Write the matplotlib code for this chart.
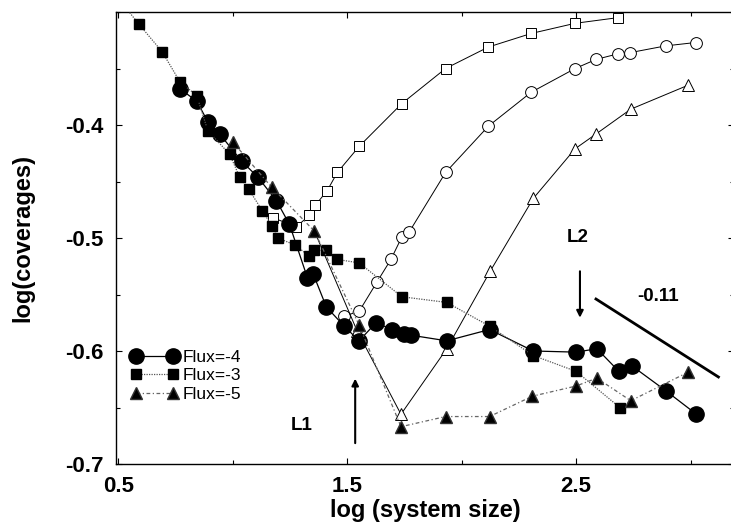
import numpy as np
import matplotlib
matplotlib.use("Agg")
import matplotlib.pyplot as plt
from matplotlib.ticker import MultipleLocator

plt.rcParams['font.family'] = ['Liberation Sans', 'DejaVu Sans']

# Flux=-4 (filled circles)
x_f4 = [0.770, 0.843, 0.891, 0.943, 1.039, 1.109, 1.191, 1.248, 1.326, 1.352, 1.409,
        1.487, 1.552, 1.626, 1.696, 1.748, 1.778, 1.935, 2.122, 2.313, 2.500, 2.591,
        2.687, 2.743, 2.891, 3.026]
y_f4 = [-0.368, -0.379, -0.397, -0.408, -0.432, -0.446, -0.467, -0.488, -0.535, -0.532,
        -0.561, -0.578, -0.591, -0.575, -0.581, -0.585, -0.586, -0.591, -0.581, -0.600,
        -0.601, -0.598, -0.618, -0.613, -0.635, -0.656]

# Flux=-3 (filled squares)
x_f3 = [0.500, 0.591, 0.691, 0.770, 0.843, 0.891, 0.987, 1.030, 1.070, 1.130, 1.170,
        1.196, 1.270, 1.335, 1.357, 1.409, 1.457, 1.552, 1.739, 1.935, 2.122, 2.313,
        2.500, 2.691]
y_f3 = [-0.288, -0.311, -0.335, -0.362, -0.374, -0.405, -0.426, -0.446, -0.457, -0.476,
        -0.489, -0.500, -0.506, -0.516, -0.511, -0.511, -0.519, -0.522, -0.552, -0.557,
        -0.578, -0.604, -0.618, -0.650]

# Flux=-5 (filled triangles)
x_f5 = [1.000, 1.170, 1.357, 1.552, 1.735, 1.930, 2.122, 2.309, 2.500, 2.591, 2.739, 2.987]
y_f5 = [-0.415, -0.455, -0.494, -0.577, -0.667, -0.658, -0.658, -0.640, -0.631, -0.624,
        -0.644, -0.619]

# open squares
x_os = [1.174, 1.278, 1.335, 1.361, 1.413, 1.457, 1.552, 1.739, 1.930, 2.117, 2.304,
        2.496, 2.683]
y_os = [-0.482, -0.490, -0.480, -0.471, -0.458, -0.442, -0.419, -0.381, -0.350, -0.331,
        -0.319, -0.310, -0.305]

# open circles
x_oc = [1.487, 1.552, 1.630, 1.691, 1.739, 1.770, 1.930, 2.117, 2.304, 2.496, 2.587,
        2.683, 2.735, 2.891, 3.022]
y_oc = [-0.569, -0.565, -0.539, -0.519, -0.499, -0.495, -0.442, -0.401, -0.371, -0.350,
        -0.342, -0.337, -0.336, -0.330, -0.327]

# open triangles
x_ot = [1.357, 1.543, 1.735, 1.935, 2.126, 2.313, 2.496, 2.587, 2.739, 2.987]
y_ot = [-0.494, -0.582, -0.656, -0.598, -0.529, -0.465, -0.421, -0.408, -0.386, -0.365]

fig = plt.figure(figsize=(7.31, 5.27), dpi=100)
ax = fig.add_axes([116/731, 63/527, 618/731, 452/527])

# open series (thin solid lines)
ax.plot(x_os, y_os, '-', color='black', lw=0.7, marker='s', ms=7.5,
        mfc='white', mec='black', mew=0.7, zorder=2)
ax.plot(x_oc, y_oc, '-', color='black', lw=0.7, marker='o', ms=8.5,
        mfc='white', mec='black', mew=0.7, zorder=2)
ax.plot(x_ot[1:], y_ot[1:], '-', color='black', lw=0.7, marker='^', ms=8,
        mfc='white', mec='black', mew=0.7, zorder=2)
ax.plot(x_ot[:2], y_ot[:2], '-', color='black', lw=0.7, zorder=2)

# filled series
ax.plot(x_f4, y_f4, '-', color='black', lw=0.9, marker='o', ms=11,
        mfc='black', mec='black', label='Flux=-4', zorder=3)
ax.plot(x_f3, y_f3, color='#555555', lw=0.9, ls=(0, (1, 1)), marker='s', ms=7.5,
        mfc='black', mec='black', label='Flux=-3', zorder=3)
ax.plot(x_f5, y_f5, color='#666666', lw=0.9, ls=(0, (3, 2, 1, 2)), marker='^', ms=8,
        mfc='black', mec='#333333', label='Flux=-5', zorder=3)

# slope line and annotations
ax.plot([2.587, 3.122], [-0.554, -0.623], color='black', lw=2)
ax.text(2.857, -0.552, '-0.11', fontsize=13.5, fontweight='bold', ha='center', va='center')
ax.annotate('', xy=(1.535, -0.622), xytext=(1.535, -0.684),
            arrowprops=dict(arrowstyle='-|>', color='black', lw=1.5, mutation_scale=10))
ax.text(1.300, -0.666, 'L1', fontsize=13.5, fontweight='bold', ha='center', va='center')
ax.annotate('', xy=(2.517, -0.573), xytext=(2.517, -0.527),
            arrowprops=dict(arrowstyle='-|>', color='black', lw=1.5, mutation_scale=10))
ax.text(2.509, -0.500, 'L2', fontsize=13.5, fontweight='bold', ha='center', va='center')

ax.set_xlim(0.49, 3.19)
ax.set_ylim(-0.7, -0.3)
ax.set_xticks([0.5, 1.5, 2.5])
ax.set_xticklabels(['0.5', '1.5', '2.5'])
ax.xaxis.set_minor_locator(MultipleLocator(0.5))
ax.set_yticks([-0.7, -0.6, -0.5, -0.4])
ax.set_yticklabels(['-0.7', '-0.6', '-0.5', '-0.4'])
ax.yaxis.set_minor_locator(MultipleLocator(0.05))
ax.tick_params(which='both', direction='in', top=True, right=True, width=0.8)
ax.tick_params(which='major', length=4, labelsize=16, pad=9)
ax.tick_params(which='minor', length=3)
for lab in ax.get_xticklabels() + ax.get_yticklabels():
    lab.set_fontweight('bold')
for s in ax.spines.values():
    s.set_linewidth(1.0)

ax.set_xlabel('log (system size)', fontsize=17, fontweight='bold', labelpad=1)
ax.set_ylabel('log(coverages)', fontsize=17, fontweight='bold', labelpad=22)

ax.legend(loc='upper left', bbox_to_anchor=(130.8/731, 1 - 350/527),
          bbox_transform=fig.transFigure, frameon=False, fontsize=12.5,
          handlelength=2.73, handletextpad=0.28, labelspacing=0.18,
          borderpad=0, borderaxespad=0, numpoints=2)

fig.savefig('out.png', dpi=100)
